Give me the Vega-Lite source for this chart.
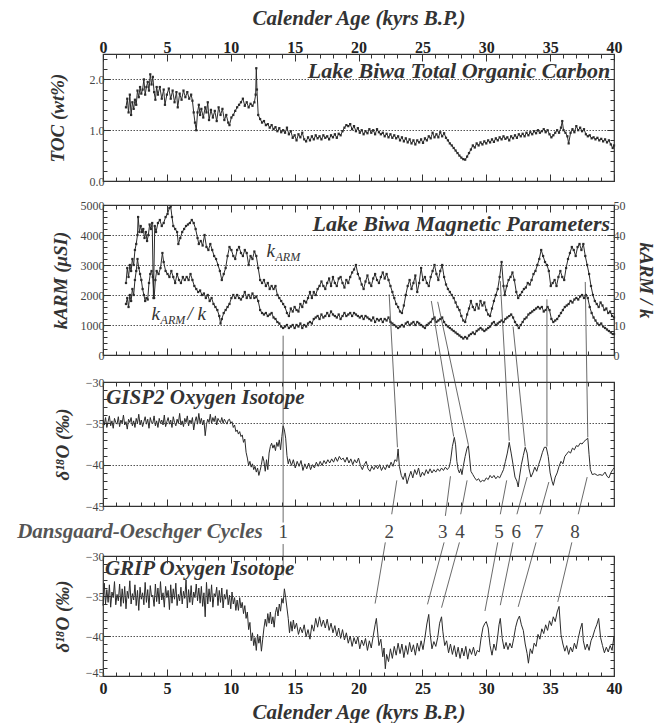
{
"$schema":"https://vega.github.io/schema/vega-lite/v6.json",
"background":"white",
"autosize":{"type":"pad"},
"padding":{"left":16,"top":6,"right":0,"bottom":0},
"config":{"font":"Liberation Serif, DejaVu Serif, serif","view":{"stroke":"#333","strokeWidth":1.2},
"text":{"font":"Liberation Serif, DejaVu Serif, serif"},
"axis":{"domain":false,"labelFont":"Liberation Serif, DejaVu Serif, serif","titleFont":"Liberation Serif, DejaVu Serif, serif","labelColor":"#444","titleColor":"#333","tickColor":"#333","titleFontStyle":"italic","titleFontWeight":"bold","titleFontSize":19,"labelFontSize":12,"labelOverlap":false,"labelFlush":false,"grid":false}},
"datasets":{
"toc":[{"a":1.8,"v":1.45},{"a":1.9,"v":1.62},{"a":2.0,"v":1.35},{"a":2.1,"v":1.7},{"a":2.2,"v":1.3},{"a":2.3,"v":1.55},{"a":2.4,"v":1.42},{"a":2.5,"v":1.6},{"a":2.6,"v":1.5},{"a":2.7,"v":1.78},{"a":2.8,"v":1.65},{"a":2.9,"v":1.85},{"a":3.0,"v":1.72},{"a":3.1,"v":1.8},{"a":3.2,"v":2.0},{"a":3.3,"v":1.7},{"a":3.4,"v":1.85},{"a":3.5,"v":1.95},{"a":3.6,"v":1.78},{"a":3.7,"v":2.1},{"a":3.8,"v":1.9},{"a":3.9,"v":2.05},{"a":4.0,"v":1.75},{"a":4.1,"v":1.6},{"a":4.2,"v":1.85},{"a":4.3,"v":1.7},{"a":4.45,"v":1.85},{"a":4.6,"v":1.62},{"a":4.75,"v":1.8},{"a":4.85,"v":1.5},{"a":5.0,"v":1.7},{"a":5.15,"v":1.82},{"a":5.3,"v":1.62},{"a":5.45,"v":1.78},{"a":5.6,"v":1.55},{"a":5.75,"v":1.75},{"a":5.85,"v":1.45},{"a":6.0,"v":1.72},{"a":6.15,"v":1.6},{"a":6.3,"v":1.78},{"a":6.45,"v":1.65},{"a":6.6,"v":1.75},{"a":6.75,"v":1.62},{"a":6.9,"v":1.7},{"a":7.0,"v":1.58},{"a":7.1,"v":1.35},{"a":7.2,"v":1.15},{"a":7.3,"v":1.0},{"a":7.4,"v":1.35},{"a":7.5,"v":1.5},{"a":7.6,"v":1.3},{"a":7.7,"v":1.42},{"a":7.85,"v":1.25},{"a":8.0,"v":1.45},{"a":8.1,"v":1.35},{"a":8.2,"v":1.55},{"a":8.3,"v":1.2},{"a":8.45,"v":1.4},{"a":8.6,"v":1.25},{"a":8.75,"v":1.38},{"a":8.9,"v":1.18},{"a":9.05,"v":1.45},{"a":9.2,"v":1.3},{"a":9.35,"v":1.42},{"a":9.5,"v":1.2},{"a":9.65,"v":1.3},{"a":9.8,"v":1.15},{"a":9.9,"v":1.1},{"a":10.05,"v":1.25},{"a":10.2,"v":1.3},{"a":10.35,"v":1.38},{"a":10.5,"v":1.45},{"a":10.65,"v":1.5},{"a":10.8,"v":1.55},{"a":10.95,"v":1.62},{"a":11.1,"v":1.48},{"a":11.25,"v":1.55},{"a":11.4,"v":1.45},{"a":11.55,"v":1.52},{"a":11.7,"v":1.48},{"a":11.85,"v":1.55},{"a":11.95,"v":1.7},{"a":12.0,"v":2.22},{"a":12.05,"v":1.8},{"a":12.15,"v":1.3},{"a":12.3,"v":1.22},{"a":12.45,"v":1.15},{"a":12.6,"v":1.18},{"a":12.75,"v":1.1},{"a":12.9,"v":1.12},{"a":13.05,"v":1.05},{"a":13.2,"v":1.1},{"a":13.35,"v":1.02},{"a":13.5,"v":1.06},{"a":13.65,"v":0.98},{"a":13.8,"v":1.04},{"a":13.95,"v":0.96},{"a":14.1,"v":1.0},{"a":14.25,"v":0.95},{"a":14.4,"v":1.05},{"a":14.55,"v":0.92},{"a":14.7,"v":0.98},{"a":14.85,"v":0.85},{"a":15.0,"v":0.9},{"a":15.15,"v":0.8},{"a":15.3,"v":0.92},{"a":15.45,"v":0.86},{"a":15.6,"v":0.95},{"a":15.75,"v":0.82},{"a":15.9,"v":0.78},{"a":16.05,"v":0.86},{"a":16.2,"v":0.8},{"a":16.35,"v":0.88},{"a":16.5,"v":0.82},{"a":16.65,"v":0.9},{"a":16.8,"v":0.84},{"a":16.95,"v":0.88},{"a":17.1,"v":0.82},{"a":17.25,"v":0.9},{"a":17.4,"v":0.85},{"a":17.55,"v":0.88},{"a":17.7,"v":0.82},{"a":17.85,"v":0.9},{"a":18.0,"v":0.86},{"a":18.15,"v":0.92},{"a":18.3,"v":0.85},{"a":18.45,"v":0.93},{"a":18.6,"v":0.9},{"a":18.75,"v":0.98},{"a":18.9,"v":1.05},{"a":19.05,"v":1.1},{"a":19.2,"v":1.08},{"a":19.35,"v":1.12},{"a":19.5,"v":1.02},{"a":19.65,"v":1.08},{"a":19.8,"v":0.98},{"a":19.95,"v":1.04},{"a":20.1,"v":0.95},{"a":20.25,"v":1.0},{"a":20.4,"v":0.92},{"a":20.55,"v":0.98},{"a":20.7,"v":0.94},{"a":20.85,"v":1.02},{"a":21.0,"v":0.95},{"a":21.15,"v":1.0},{"a":21.3,"v":0.92},{"a":21.45,"v":1.02},{"a":21.6,"v":0.96},{"a":21.75,"v":0.92},{"a":21.9,"v":0.95},{"a":22.05,"v":0.88},{"a":22.2,"v":0.93},{"a":22.35,"v":0.86},{"a":22.5,"v":0.92},{"a":22.65,"v":0.85},{"a":22.8,"v":0.9},{"a":22.95,"v":0.84},{"a":23.1,"v":0.88},{"a":23.25,"v":0.8},{"a":23.4,"v":0.86},{"a":23.55,"v":0.78},{"a":23.7,"v":0.84},{"a":23.85,"v":0.76},{"a":24.0,"v":0.82},{"a":24.15,"v":0.74},{"a":24.3,"v":0.8},{"a":24.45,"v":0.72},{"a":24.6,"v":0.8},{"a":24.75,"v":0.76},{"a":24.9,"v":0.82},{"a":25.05,"v":0.75},{"a":25.2,"v":0.84},{"a":25.35,"v":0.8},{"a":25.5,"v":0.88},{"a":25.65,"v":0.84},{"a":25.8,"v":0.95},{"a":25.95,"v":0.86},{"a":26.1,"v":0.92},{"a":26.25,"v":0.86},{"a":26.4,"v":0.96},{"a":26.55,"v":0.88},{"a":26.7,"v":0.94},{"a":26.85,"v":0.85},{"a":27.0,"v":0.8},{"a":27.15,"v":0.74},{"a":27.3,"v":0.7},{"a":27.45,"v":0.65},{"a":27.6,"v":0.6},{"a":27.75,"v":0.55},{"a":27.9,"v":0.5},{"a":28.05,"v":0.46},{"a":28.2,"v":0.43},{"a":28.35,"v":0.42},{"a":28.5,"v":0.48},{"a":28.65,"v":0.55},{"a":28.8,"v":0.62},{"a":28.95,"v":0.7},{"a":29.1,"v":0.66},{"a":29.25,"v":0.74},{"a":29.4,"v":0.7},{"a":29.55,"v":0.76},{"a":29.7,"v":0.72},{"a":29.85,"v":0.78},{"a":30.0,"v":0.74},{"a":30.15,"v":0.8},{"a":30.3,"v":0.76},{"a":30.45,"v":0.82},{"a":30.6,"v":0.77},{"a":30.75,"v":0.84},{"a":30.9,"v":0.8},{"a":31.05,"v":0.86},{"a":31.2,"v":0.82},{"a":31.35,"v":0.88},{"a":31.5,"v":0.83},{"a":31.65,"v":0.86},{"a":31.8,"v":0.8},{"a":31.95,"v":0.88},{"a":32.1,"v":0.84},{"a":32.25,"v":0.9},{"a":32.4,"v":0.85},{"a":32.55,"v":0.92},{"a":32.7,"v":0.88},{"a":32.85,"v":0.93},{"a":33.0,"v":0.88},{"a":33.15,"v":0.95},{"a":33.3,"v":0.9},{"a":33.45,"v":0.96},{"a":33.6,"v":0.92},{"a":33.75,"v":0.98},{"a":33.9,"v":0.94},{"a":34.05,"v":1.0},{"a":34.2,"v":0.95},{"a":34.35,"v":0.98},{"a":34.5,"v":1.02},{"a":34.65,"v":0.96},{"a":34.8,"v":1.0},{"a":34.95,"v":0.92},{"a":35.1,"v":0.86},{"a":35.25,"v":0.9},{"a":35.4,"v":0.95},{"a":35.55,"v":1.0},{"a":35.7,"v":0.95},{"a":35.85,"v":1.05},{"a":35.95,"v":1.18},{"a":36.05,"v":1.0},{"a":36.2,"v":0.95},{"a":36.35,"v":0.88},{"a":36.45,"v":0.74},{"a":36.6,"v":0.95},{"a":36.75,"v":1.02},{"a":36.9,"v":0.96},{"a":37.05,"v":1.08},{"a":37.2,"v":1.0},{"a":37.35,"v":1.05},{"a":37.5,"v":0.98},{"a":37.65,"v":1.02},{"a":37.8,"v":0.92},{"a":37.95,"v":0.88},{"a":38.1,"v":0.9},{"a":38.25,"v":0.84},{"a":38.4,"v":0.86},{"a":38.55,"v":0.82},{"a":38.7,"v":0.85},{"a":38.85,"v":0.8},{"a":39.0,"v":0.83},{"a":39.15,"v":0.78},{"a":39.3,"v":0.82},{"a":39.45,"v":0.76},{"a":39.6,"v":0.8},{"a":39.75,"v":0.72},{"a":39.9,"v":0.65},{"a":40.0,"v":0.7}],
"karm":[{"a":1.8,"v":2400},{"a":1.9,"v":2900},{"a":2.0,"v":2600},{"a":2.1,"v":3000},{"a":2.2,"v":2800},{"a":2.3,"v":3200},{"a":2.4,"v":3000},{"a":2.5,"v":3500},{"a":2.6,"v":3700},{"a":2.7,"v":4000},{"a":2.75,"v":4600},{"a":2.85,"v":4100},{"a":2.95,"v":4300},{"a":3.05,"v":4100},{"a":3.15,"v":4200},{"a":3.25,"v":3900},{"a":3.35,"v":4100},{"a":3.45,"v":3800},{"a":3.55,"v":4000},{"a":3.65,"v":4350},{"a":3.75,"v":4200},{"a":3.85,"v":4400},{"a":3.95,"v":1900},{"a":4.05,"v":4300},{"a":4.15,"v":4100},{"a":4.3,"v":4400},{"a":4.45,"v":4500},{"a":4.6,"v":4300},{"a":4.75,"v":4400},{"a":4.9,"v":4600},{"a":5.05,"v":4700},{"a":5.2,"v":4900},{"a":5.3,"v":4950},{"a":5.4,"v":4600},{"a":5.5,"v":4300},{"a":5.65,"v":4200},{"a":5.8,"v":4100},{"a":5.9,"v":3700},{"a":6.05,"v":3900},{"a":6.2,"v":4100},{"a":6.35,"v":4200},{"a":6.5,"v":4300},{"a":6.65,"v":4350},{"a":6.8,"v":4400},{"a":6.95,"v":4500},{"a":7.1,"v":4400},{"a":7.25,"v":4200},{"a":7.4,"v":3900},{"a":7.5,"v":3700},{"a":7.65,"v":3800},{"a":7.8,"v":3650},{"a":7.95,"v":4000},{"a":8.1,"v":3600},{"a":8.25,"v":3500},{"a":8.4,"v":3700},{"a":8.55,"v":3500},{"a":8.7,"v":3300},{"a":8.85,"v":3200},{"a":9.0,"v":3000},{"a":9.15,"v":2800},{"a":9.3,"v":2500},{"a":9.45,"v":2700},{"a":9.6,"v":2900},{"a":9.75,"v":3300},{"a":9.9,"v":3600},{"a":10.05,"v":3500},{"a":10.2,"v":3300},{"a":10.35,"v":3200},{"a":10.5,"v":3500},{"a":10.65,"v":3600},{"a":10.8,"v":3400},{"a":10.95,"v":3300},{"a":11.1,"v":3500},{"a":11.25,"v":3400},{"a":11.4,"v":3000},{"a":11.55,"v":3300},{"a":11.7,"v":3200},{"a":11.85,"v":3450},{"a":12.0,"v":3300},{"a":12.15,"v":2900},{"a":12.3,"v":2500},{"a":12.45,"v":2400},{"a":12.6,"v":2500},{"a":12.75,"v":2300},{"a":12.9,"v":2400},{"a":13.05,"v":2200},{"a":13.2,"v":2300},{"a":13.35,"v":2200},{"a":13.5,"v":2300},{"a":13.65,"v":2000},{"a":13.8,"v":1900},{"a":13.95,"v":1800},{"a":14.1,"v":1700},{"a":14.25,"v":1600},{"a":14.4,"v":1400},{"a":14.55,"v":1300},{"a":14.7,"v":1550},{"a":14.85,"v":1450},{"a":15.0,"v":1600},{"a":15.15,"v":1500},{"a":15.3,"v":1450},{"a":15.45,"v":1700},{"a":15.6,"v":1600},{"a":15.75,"v":1800},{"a":15.9,"v":1750},{"a":16.05,"v":1900},{"a":16.2,"v":2100},{"a":16.35,"v":1900},{"a":16.5,"v":2100},{"a":16.65,"v":2000},{"a":16.8,"v":2200},{"a":16.95,"v":2300},{"a":17.1,"v":2450},{"a":17.25,"v":2300},{"a":17.4,"v":2200},{"a":17.55,"v":2400},{"a":17.7,"v":2550},{"a":17.85,"v":2300},{"a":18.0,"v":2600},{"a":18.15,"v":2400},{"a":18.3,"v":2300},{"a":18.45,"v":2550},{"a":18.6,"v":2600},{"a":18.75,"v":2400},{"a":18.9,"v":2250},{"a":19.05,"v":2500},{"a":19.2,"v":2400},{"a":19.35,"v":2600},{"a":19.5,"v":2750},{"a":19.65,"v":2850},{"a":19.8,"v":3000},{"a":19.95,"v":2700},{"a":20.1,"v":2550},{"a":20.25,"v":2350},{"a":20.4,"v":2200},{"a":20.55,"v":2450},{"a":20.7,"v":2650},{"a":20.85,"v":2400},{"a":21.0,"v":2300},{"a":21.15,"v":2550},{"a":21.3,"v":2700},{"a":21.45,"v":2500},{"a":21.6,"v":2400},{"a":21.75,"v":2600},{"a":21.9,"v":2750},{"a":22.05,"v":2550},{"a":22.2,"v":2700},{"a":22.35,"v":2500},{"a":22.5,"v":2300},{"a":22.65,"v":2100},{"a":22.8,"v":1900},{"a":22.95,"v":1700},{"a":23.1,"v":1600},{"a":23.25,"v":1450},{"a":23.4,"v":1400},{"a":23.55,"v":1650},{"a":23.7,"v":2000},{"a":23.85,"v":2300},{"a":24.0,"v":2500},{"a":24.15,"v":2200},{"a":24.3,"v":2400},{"a":24.45,"v":2650},{"a":24.6,"v":2100},{"a":24.75,"v":2400},{"a":24.9,"v":2900},{"a":25.05,"v":2500},{"a":25.2,"v":2600},{"a":25.35,"v":2400},{"a":25.5,"v":2300},{"a":25.65,"v":2600},{"a":25.8,"v":2800},{"a":25.95,"v":3000},{"a":26.1,"v":2700},{"a":26.25,"v":2500},{"a":26.4,"v":2800},{"a":26.55,"v":3000},{"a":26.7,"v":2600},{"a":26.85,"v":2350},{"a":27.0,"v":2200},{"a":27.15,"v":2100},{"a":27.3,"v":2000},{"a":27.45,"v":1900},{"a":27.6,"v":1750},{"a":27.75,"v":1600},{"a":27.9,"v":1500},{"a":28.05,"v":1300},{"a":28.2,"v":1150},{"a":28.35,"v":1100},{"a":28.5,"v":1350},{"a":28.65,"v":1550},{"a":28.8,"v":1800},{"a":28.95,"v":1600},{"a":29.1,"v":1500},{"a":29.25,"v":1700},{"a":29.4,"v":1550},{"a":29.55,"v":1800},{"a":29.7,"v":1650},{"a":29.85,"v":1750},{"a":30.0,"v":1500},{"a":30.15,"v":1350},{"a":30.3,"v":1300},{"a":30.45,"v":1550},{"a":30.6,"v":1800},{"a":30.75,"v":2000},{"a":30.9,"v":2200},{"a":31.05,"v":2600},{"a":31.2,"v":3100},{"a":31.35,"v":2300},{"a":31.45,"v":2000},{"a":31.6,"v":2300},{"a":31.75,"v":2500},{"a":31.9,"v":2600},{"a":32.05,"v":2750},{"a":32.2,"v":2500},{"a":32.35,"v":2100},{"a":32.5,"v":1900},{"a":32.65,"v":2000},{"a":32.8,"v":2100},{"a":32.95,"v":2200},{"a":33.1,"v":2250},{"a":33.25,"v":2400},{"a":33.4,"v":2350},{"a":33.55,"v":2500},{"a":33.7,"v":2700},{"a":33.85,"v":2800},{"a":34.0,"v":3000},{"a":34.15,"v":3200},{"a":34.3,"v":3500},{"a":34.45,"v":3300},{"a":34.6,"v":3100},{"a":34.75,"v":3000},{"a":34.9,"v":2800},{"a":35.05,"v":2300},{"a":35.2,"v":2400},{"a":35.35,"v":2500},{"a":35.5,"v":2300},{"a":35.65,"v":2600},{"a":35.8,"v":2800},{"a":35.95,"v":2600},{"a":36.1,"v":2500},{"a":36.25,"v":2900},{"a":36.4,"v":3200},{"a":36.55,"v":3400},{"a":36.7,"v":3600},{"a":36.85,"v":3500},{"a":37.0,"v":3300},{"a":37.15,"v":3600},{"a":37.3,"v":3700},{"a":37.45,"v":3500},{"a":37.6,"v":3700},{"a":37.75,"v":3300},{"a":37.9,"v":3000},{"a":38.05,"v":2700},{"a":38.2,"v":2300},{"a":38.35,"v":2000},{"a":38.5,"v":1800},{"a":38.65,"v":1700},{"a":38.8,"v":1600},{"a":38.95,"v":1750},{"a":39.1,"v":1650},{"a":39.25,"v":1500},{"a":39.4,"v":1550},{"a":39.55,"v":1400},{"a":39.7,"v":1450},{"a":39.85,"v":1300},{"a":40.0,"v":1250}],
"ratio":[{"a":1.8,"v":17},{"a":1.9,"v":19},{"a":2.0,"v":16},{"a":2.1,"v":20},{"a":2.2,"v":18},{"a":2.3,"v":22},{"a":2.4,"v":20},{"a":2.5,"v":25},{"a":2.6,"v":28},{"a":2.7,"v":32},{"a":2.8,"v":29},{"a":2.9,"v":27},{"a":3.0,"v":25},{"a":3.1,"v":22},{"a":3.2,"v":20},{"a":3.3,"v":18},{"a":3.4,"v":19},{"a":3.5,"v":18.5},{"a":3.6,"v":24},{"a":3.7,"v":27},{"a":3.8,"v":28},{"a":3.9,"v":26},{"a":4.0,"v":19},{"a":4.1,"v":25},{"a":4.2,"v":28},{"a":4.35,"v":27},{"a":4.5,"v":29},{"a":4.65,"v":34},{"a":4.75,"v":31},{"a":4.9,"v":28},{"a":5.05,"v":27},{"a":5.2,"v":26},{"a":5.35,"v":28},{"a":5.5,"v":26},{"a":5.65,"v":24},{"a":5.8,"v":27},{"a":5.95,"v":25},{"a":6.1,"v":24},{"a":6.25,"v":26},{"a":6.4,"v":25},{"a":6.55,"v":26},{"a":6.7,"v":25},{"a":6.85,"v":27},{"a":7.0,"v":25},{"a":7.15,"v":23},{"a":7.3,"v":22},{"a":7.45,"v":21},{"a":7.6,"v":21.5},{"a":7.75,"v":20},{"a":7.9,"v":20.5},{"a":8.05,"v":19},{"a":8.2,"v":20},{"a":8.35,"v":18},{"a":8.5,"v":19},{"a":8.65,"v":17},{"a":8.8,"v":16},{"a":8.95,"v":15},{"a":9.1,"v":13},{"a":9.2,"v":10.5},{"a":9.3,"v":12},{"a":9.45,"v":14},{"a":9.6,"v":15},{"a":9.75,"v":16},{"a":9.9,"v":17},{"a":10.05,"v":19},{"a":10.2,"v":20},{"a":10.35,"v":19},{"a":10.5,"v":20},{"a":10.65,"v":19},{"a":10.8,"v":18.5},{"a":10.95,"v":19.5},{"a":11.1,"v":21},{"a":11.25,"v":19},{"a":11.4,"v":20},{"a":11.55,"v":19},{"a":11.7,"v":20.5},{"a":11.85,"v":19},{"a":12.0,"v":19.5},{"a":12.15,"v":18},{"a":12.3,"v":15},{"a":12.45,"v":14},{"a":12.6,"v":13.5},{"a":12.75,"v":14},{"a":12.9,"v":13},{"a":13.05,"v":13.5},{"a":13.2,"v":14},{"a":13.35,"v":12.5},{"a":13.5,"v":12},{"a":13.65,"v":11},{"a":13.8,"v":10.5},{"a":13.95,"v":9.5},{"a":14.1,"v":9},{"a":14.25,"v":9.5},{"a":14.4,"v":10},{"a":14.55,"v":9},{"a":14.7,"v":9.5},{"a":14.85,"v":10},{"a":15.0,"v":9},{"a":15.15,"v":10},{"a":15.3,"v":9.5},{"a":15.45,"v":10.5},{"a":15.6,"v":9},{"a":15.75,"v":10},{"a":15.9,"v":9.5},{"a":16.05,"v":10.5},{"a":16.2,"v":11},{"a":16.35,"v":10.5},{"a":16.5,"v":12},{"a":16.65,"v":12.5},{"a":16.8,"v":13},{"a":16.95,"v":12},{"a":17.1,"v":13.5},{"a":17.25,"v":12.5},{"a":17.4,"v":13},{"a":17.55,"v":14},{"a":17.7,"v":13},{"a":17.85,"v":14.5},{"a":18.0,"v":13.5},{"a":18.15,"v":13},{"a":18.3,"v":12.5},{"a":18.45,"v":13.5},{"a":18.6,"v":12},{"a":18.75,"v":13},{"a":18.9,"v":14},{"a":19.05,"v":13},{"a":19.2,"v":13.5},{"a":19.35,"v":14},{"a":19.5,"v":13},{"a":19.65,"v":14},{"a":19.8,"v":13.5},{"a":19.95,"v":13},{"a":20.1,"v":12.5},{"a":20.25,"v":13},{"a":20.4,"v":12},{"a":20.55,"v":13},{"a":20.7,"v":12.5},{"a":20.85,"v":12},{"a":21.0,"v":11.5},{"a":21.15,"v":12.5},{"a":21.3,"v":11},{"a":21.45,"v":12},{"a":21.6,"v":11.5},{"a":21.75,"v":12},{"a":21.9,"v":11},{"a":22.05,"v":12},{"a":22.2,"v":11.5},{"a":22.35,"v":12.5},{"a":22.5,"v":11},{"a":22.65,"v":10.5},{"a":22.8,"v":10},{"a":22.95,"v":9.5},{"a":23.1,"v":9},{"a":23.25,"v":9.5},{"a":23.4,"v":10},{"a":23.55,"v":9.5},{"a":23.7,"v":10.5},{"a":23.85,"v":11},{"a":24.0,"v":10},{"a":24.15,"v":10.5},{"a":24.3,"v":11},{"a":24.45,"v":10},{"a":24.6,"v":11},{"a":24.75,"v":10.5},{"a":24.9,"v":10},{"a":25.05,"v":9.5},{"a":25.2,"v":9},{"a":25.35,"v":10},{"a":25.5,"v":10.5},{"a":25.65,"v":11},{"a":25.8,"v":12},{"a":25.95,"v":12.5},{"a":26.1,"v":11},{"a":26.25,"v":11.5},{"a":26.4,"v":12},{"a":26.55,"v":12.5},{"a":26.7,"v":11},{"a":26.85,"v":10},{"a":27.0,"v":9.5},{"a":27.15,"v":9},{"a":27.3,"v":8.5},{"a":27.45,"v":8},{"a":27.6,"v":7.5},{"a":27.75,"v":7},{"a":27.9,"v":6.5},{"a":28.05,"v":6},{"a":28.2,"v":5.5},{"a":28.35,"v":6},{"a":28.5,"v":5.5},{"a":28.65,"v":6.5},{"a":28.8,"v":7},{"a":28.95,"v":7.5},{"a":29.1,"v":7},{"a":29.25,"v":8},{"a":29.4,"v":8.5},{"a":29.55,"v":9},{"a":29.7,"v":8.5},{"a":29.85,"v":8},{"a":30.0,"v":8.5},{"a":30.15,"v":9},{"a":30.3,"v":9.5},{"a":30.45,"v":10.5},{"a":30.6,"v":11},{"a":30.75,"v":10},{"a":30.9,"v":10.5},{"a":31.05,"v":11},{"a":31.2,"v":11.5},{"a":31.35,"v":11},{"a":31.5,"v":12},{"a":31.65,"v":12.5},{"a":31.8,"v":13},{"a":31.95,"v":13.5},{"a":32.1,"v":12.5},{"a":32.25,"v":11},{"a":32.4,"v":10},{"a":32.55,"v":9},{"a":32.7,"v":10},{"a":32.85,"v":11},{"a":33.0,"v":12},{"a":33.15,"v":12.5},{"a":33.3,"v":13.5},{"a":33.45,"v":14},{"a":33.6,"v":14.5},{"a":33.75,"v":15},{"a":33.9,"v":15.5},{"a":34.05,"v":16},{"a":34.2,"v":15.5},{"a":34.35,"v":16},{"a":34.5,"v":14.5},{"a":34.65,"v":15},{"a":34.8,"v":16},{"a":34.95,"v":15},{"a":35.1,"v":12},{"a":35.25,"v":11},{"a":35.4,"v":11.5},{"a":35.55,"v":12},{"a":35.7,"v":13},{"a":35.85,"v":14},{"a":36.0,"v":15},{"a":36.15,"v":16},{"a":36.3,"v":16.5},{"a":36.45,"v":17},{"a":36.6,"v":18},{"a":36.75,"v":17.5},{"a":36.9,"v":18.5},{"a":37.05,"v":19},{"a":37.2,"v":18.5},{"a":37.35,"v":19.5},{"a":37.5,"v":20},{"a":37.65,"v":19},{"a":37.8,"v":20},{"a":37.95,"v":19},{"a":38.1,"v":16},{"a":38.25,"v":14},{"a":38.4,"v":12.5},{"a":38.55,"v":11.5},{"a":38.7,"v":10.5},{"a":38.85,"v":10},{"a":39.0,"v":10.5},{"a":39.15,"v":9.5},{"a":39.3,"v":9},{"a":39.45,"v":8.5},{"a":39.6,"v":8},{"a":39.75,"v":7.5},{"a":39.9,"v":7},{"a":40.0,"v":7}],
"gisp":[{"a":0.0,"v":-34.6},{"a":0.1,"v":-35.2},{"a":0.2,"v":-34.3},{"a":0.3,"v":-35.5},{"a":0.4,"v":-34.8},{"a":0.5,"v":-34.1},{"a":0.6,"v":-35.3},{"a":0.7,"v":-34.7},{"a":0.8,"v":-35.6},{"a":0.9,"v":-34.4},{"a":1.0,"v":-34.9},{"a":1.1,"v":-35.1},{"a":1.2,"v":-34.2},{"a":1.3,"v":-35.4},{"a":1.4,"v":-34.6},{"a":1.5,"v":-35.0},{"a":1.6,"v":-34.0},{"a":1.7,"v":-35.2},{"a":1.8,"v":-34.8},{"a":1.9,"v":-35.7},{"a":2.0,"v":-34.5},{"a":2.1,"v":-34.9},{"a":2.2,"v":-34.3},{"a":2.3,"v":-35.3},{"a":2.4,"v":-34.7},{"a":2.5,"v":-35.5},{"a":2.6,"v":-34.4},{"a":2.7,"v":-35.0},{"a":2.8,"v":-33.9},{"a":2.9,"v":-35.2},{"a":3.0,"v":-34.6},{"a":3.1,"v":-35.4},{"a":3.2,"v":-34.8},{"a":3.3,"v":-34.2},{"a":3.4,"v":-35.1},{"a":3.5,"v":-34.5},{"a":3.6,"v":-35.6},{"a":3.7,"v":-34.3},{"a":3.8,"v":-34.9},{"a":3.9,"v":-35.0},{"a":4.0,"v":-34.1},{"a":4.1,"v":-35.3},{"a":4.2,"v":-34.7},{"a":4.3,"v":-35.5},{"a":4.4,"v":-34.4},{"a":4.5,"v":-35.0},{"a":4.6,"v":-34.6},{"a":4.7,"v":-35.2},{"a":4.8,"v":-34.0},{"a":4.9,"v":-35.4},{"a":5.0,"v":-34.8},{"a":5.1,"v":-34.3},{"a":5.2,"v":-35.1},{"a":5.3,"v":-34.6},{"a":5.4,"v":-35.5},{"a":5.5,"v":-34.2},{"a":5.6,"v":-34.9},{"a":5.7,"v":-35.3},{"a":5.8,"v":-34.5},{"a":5.9,"v":-35.0},{"a":6.0,"v":-33.8},{"a":6.1,"v":-35.2},{"a":6.2,"v":-34.7},{"a":6.3,"v":-35.4},{"a":6.4,"v":-34.4},{"a":6.5,"v":-34.9},{"a":6.6,"v":-34.1},{"a":6.7,"v":-35.3},{"a":6.8,"v":-34.6},{"a":6.9,"v":-35.0},{"a":7.0,"v":-34.3},{"a":7.1,"v":-35.8},{"a":7.2,"v":-34.8},{"a":7.3,"v":-34.2},{"a":7.4,"v":-35.1},{"a":7.5,"v":-33.8},{"a":7.6,"v":-35.0},{"a":7.7,"v":-34.4},{"a":7.8,"v":-35.2},{"a":7.9,"v":-34.6},{"a":8.0,"v":-36.5},{"a":8.1,"v":-35.1},{"a":8.2,"v":-34.5},{"a":8.3,"v":-34.9},{"a":8.4,"v":-33.9},{"a":8.5,"v":-35.0},{"a":8.6,"v":-34.3},{"a":8.7,"v":-34.8},{"a":8.8,"v":-34.1},{"a":8.9,"v":-35.2},{"a":9.0,"v":-34.4},{"a":9.1,"v":-34.7},{"a":9.2,"v":-34.9},{"a":9.3,"v":-34.3},{"a":9.4,"v":-35.0},{"a":9.5,"v":-34.5},{"a":9.6,"v":-34.8},{"a":9.7,"v":-35.1},{"a":9.8,"v":-34.6},{"a":9.9,"v":-34.5},{"a":10.0,"v":-35.0},{"a":10.1,"v":-34.8},{"a":10.2,"v":-35.5},{"a":10.3,"v":-35.2},{"a":10.4,"v":-36.0},{"a":10.5,"v":-35.8},{"a":10.6,"v":-36.3},{"a":10.7,"v":-36.0},{"a":10.8,"v":-36.6},{"a":10.9,"v":-36.4},{"a":11.0,"v":-37.3},{"a":11.1,"v":-36.9},{"a":11.2,"v":-38.5},{"a":11.3,"v":-39.2},{"a":11.4,"v":-40.1},{"a":11.5,"v":-39.6},{"a":11.6,"v":-40.3},{"a":11.7,"v":-39.9},{"a":11.8,"v":-40.6},{"a":11.9,"v":-40.2},{"a":12.0,"v":-40.9},{"a":12.1,"v":-40.4},{"a":12.2,"v":-41.3},{"a":12.3,"v":-40.7},{"a":12.4,"v":-40.0},{"a":12.5,"v":-39.0},{"a":12.6,"v":-39.6},{"a":12.7,"v":-40.8},{"a":12.8,"v":-39.4},{"a":12.9,"v":-40.6},{"a":13.0,"v":-38.6},{"a":13.1,"v":-37.8},{"a":13.2,"v":-37.4},{"a":13.3,"v":-38.0},{"a":13.4,"v":-37.6},{"a":13.5,"v":-38.3},{"a":13.6,"v":-37.3},{"a":13.7,"v":-37.8},{"a":13.8,"v":-37.0},{"a":13.9,"v":-38.2},{"a":14.0,"v":-36.6},{"a":14.1,"v":-35.3},{"a":14.2,"v":-35.8},{"a":14.3,"v":-36.8},{"a":14.4,"v":-38.9},{"a":14.5,"v":-39.9},{"a":14.6,"v":-39.3},{"a":14.75,"v":-40.1},{"a":14.9,"v":-39.4},{"a":15.05,"v":-40.4},{"a":15.2,"v":-39.6},{"a":15.35,"v":-40.2},{"a":15.5,"v":-39.5},{"a":15.65,"v":-40.7},{"a":15.8,"v":-39.9},{"a":15.95,"v":-40.5},{"a":16.1,"v":-39.8},{"a":16.25,"v":-40.6},{"a":16.4,"v":-40.0},{"a":16.55,"v":-40.4},{"a":16.7,"v":-39.7},{"a":16.85,"v":-40.2},{"a":17.0,"v":-39.6},{"a":17.15,"v":-40.1},{"a":17.3,"v":-39.5},{"a":17.45,"v":-39.9},{"a":17.6,"v":-39.4},{"a":17.75,"v":-39.8},{"a":17.9,"v":-39.3},{"a":18.05,"v":-39.7},{"a":18.2,"v":-39.1},{"a":18.35,"v":-39.6},{"a":18.5,"v":-39.0},{"a":18.65,"v":-39.4},{"a":18.8,"v":-39.2},{"a":18.95,"v":-39.7},{"a":19.1,"v":-39.1},{"a":19.25,"v":-39.8},{"a":19.4,"v":-39.3},{"a":19.55,"v":-40.0},{"a":19.7,"v":-39.4},{"a":19.85,"v":-39.8},{"a":20.0,"v":-39.2},{"a":20.15,"v":-40.1},{"a":20.3,"v":-40.6},{"a":20.45,"v":-40.0},{"a":20.6,"v":-39.6},{"a":20.75,"v":-40.5},{"a":20.9,"v":-40.8},{"a":21.05,"v":-40.2},{"a":21.2,"v":-40.6},{"a":21.35,"v":-40.1},{"a":21.5,"v":-40.5},{"a":21.65,"v":-40.0},{"a":21.8,"v":-40.7},{"a":21.95,"v":-40.2},{"a":22.1,"v":-40.6},{"a":22.25,"v":-40.0},{"a":22.4,"v":-40.4},{"a":22.55,"v":-39.7},{"a":22.7,"v":-40.2},{"a":22.85,"v":-39.4},{"a":23.0,"v":-39.6},{"a":23.1,"v":-38.1},{"a":23.2,"v":-40.2},{"a":23.35,"v":-41.3},{"a":23.5,"v":-41.8},{"a":23.65,"v":-41.0},{"a":23.8,"v":-42.3},{"a":23.95,"v":-41.5},{"a":24.1,"v":-40.8},{"a":24.25,"v":-41.6},{"a":24.4,"v":-40.6},{"a":24.55,"v":-41.2},{"a":24.7,"v":-40.4},{"a":24.85,"v":-41.5},{"a":25.0,"v":-40.9},{"a":25.15,"v":-41.3},{"a":25.3,"v":-40.6},{"a":25.45,"v":-41.1},{"a":25.6,"v":-40.5},{"a":25.75,"v":-41.0},{"a":25.9,"v":-40.6},{"a":26.05,"v":-40.9},{"a":26.2,"v":-40.5},{"a":26.35,"v":-40.8},{"a":26.5,"v":-40.4},{"a":26.65,"v":-40.7},{"a":26.8,"v":-40.3},{"a":26.95,"v":-40.6},{"a":27.1,"v":-40.3},{"a":27.2,"v":-39.6},{"a":27.35,"v":-37.8},{"a":27.5,"v":-36.7},{"a":27.6,"v":-37.6},{"a":27.7,"v":-39.6},{"a":27.8,"v":-40.6},{"a":27.9,"v":-41.0},{"a":28.0,"v":-40.5},{"a":28.1,"v":-41.2},{"a":28.2,"v":-40.2},{"a":28.35,"v":-39.0},{"a":28.5,"v":-38.0},{"a":28.6,"v":-37.7},{"a":28.7,"v":-39.2},{"a":28.8,"v":-40.8},{"a":28.95,"v":-41.2},{"a":29.1,"v":-41.6},{"a":29.25,"v":-41.9},{"a":29.4,"v":-41.7},{"a":29.55,"v":-42.1},{"a":29.7,"v":-41.9},{"a":29.85,"v":-42.0},{"a":30.0,"v":-41.6},{"a":30.15,"v":-41.8},{"a":30.3,"v":-41.3},{"a":30.45,"v":-41.6},{"a":30.6,"v":-41.3},{"a":30.75,"v":-41.7},{"a":30.9,"v":-41.4},{"a":31.05,"v":-41.6},{"a":31.2,"v":-41.1},{"a":31.35,"v":-40.6},{"a":31.5,"v":-39.6},{"a":31.65,"v":-38.6},{"a":31.8,"v":-37.3},{"a":31.95,"v":-38.6},{"a":32.1,"v":-40.0},{"a":32.25,"v":-41.5},{"a":32.4,"v":-42.0},{"a":32.5,"v":-42.7},{"a":32.6,"v":-41.5},{"a":32.75,"v":-40.0},{"a":32.9,"v":-38.9},{"a":33.05,"v":-37.9},{"a":33.2,"v":-38.6},{"a":33.35,"v":-40.5},{"a":33.5,"v":-41.5},{"a":33.65,"v":-41.0},{"a":33.8,"v":-40.3},{"a":33.95,"v":-40.8},{"a":34.1,"v":-40.0},{"a":34.25,"v":-39.3},{"a":34.4,"v":-38.5},{"a":34.55,"v":-37.9},{"a":34.7,"v":-37.9},{"a":34.85,"v":-39.0},{"a":35.0,"v":-41.0},{"a":35.15,"v":-42.0},{"a":35.25,"v":-42.5},{"a":35.4,"v":-41.5},{"a":35.55,"v":-41.0},{"a":35.7,"v":-40.2},{"a":35.85,"v":-39.6},{"a":36.0,"v":-39.9},{"a":36.15,"v":-39.0},{"a":36.3,"v":-38.7},{"a":36.45,"v":-38.4},{"a":36.6,"v":-38.6},{"a":36.75,"v":-38.0},{"a":36.9,"v":-38.2},{"a":37.05,"v":-37.7},{"a":37.2,"v":-37.8},{"a":37.35,"v":-37.4},{"a":37.5,"v":-37.5},{"a":37.65,"v":-37.2},{"a":37.8,"v":-37.0},{"a":37.95,"v":-36.8},{"a":38.05,"v":-38.8},{"a":38.15,"v":-40.6},{"a":38.3,"v":-41.2},{"a":38.5,"v":-41.1},{"a":38.7,"v":-41.3},{"a":38.9,"v":-41.2},{"a":39.1,"v":-41.3},{"a":39.3,"v":-40.9},{"a":39.45,"v":-41.4},{"a":39.6,"v":-41.6},{"a":39.75,"v":-41.0},{"a":39.9,"v":-40.6},{"a":40.0,"v":-40.4}],
"grip":[{"a":0.0,"v":-36.2},{"a":0.1,"v":-33.4},{"a":0.2,"v":-36.0},{"a":0.3,"v":-34.2},{"a":0.4,"v":-35.8},{"a":0.5,"v":-33.6},{"a":0.6,"v":-36.4},{"a":0.7,"v":-34.5},{"a":0.8,"v":-35.2},{"a":0.9,"v":-33.2},{"a":1.0,"v":-36.1},{"a":1.1,"v":-34.8},{"a":1.2,"v":-35.6},{"a":1.3,"v":-33.5},{"a":1.4,"v":-36.3},{"a":1.5,"v":-34.1},{"a":1.6,"v":-35.9},{"a":1.7,"v":-33.8},{"a":1.8,"v":-36.6},{"a":1.9,"v":-34.4},{"a":2.0,"v":-35.3},{"a":2.1,"v":-33.1},{"a":2.2,"v":-36.0},{"a":2.3,"v":-34.7},{"a":2.4,"v":-35.5},{"a":2.5,"v":-33.6},{"a":2.6,"v":-36.2},{"a":2.7,"v":-34.3},{"a":2.8,"v":-36.8},{"a":2.9,"v":-33.9},{"a":3.0,"v":-35.4},{"a":3.1,"v":-34.6},{"a":3.2,"v":-36.1},{"a":3.3,"v":-33.3},{"a":3.4,"v":-35.8},{"a":3.5,"v":-34.2},{"a":3.6,"v":-36.5},{"a":3.7,"v":-33.7},{"a":3.8,"v":-35.1},{"a":3.9,"v":-34.9},{"a":4.0,"v":-36.3},{"a":4.1,"v":-33.5},{"a":4.2,"v":-35.7},{"a":4.3,"v":-34.0},{"a":4.4,"v":-36.0},{"a":4.5,"v":-33.2},{"a":4.6,"v":-35.5},{"a":4.7,"v":-34.6},{"a":4.8,"v":-36.4},{"a":4.9,"v":-33.8},{"a":5.0,"v":-35.2},{"a":5.1,"v":-34.3},{"a":5.2,"v":-36.7},{"a":5.3,"v":-33.6},{"a":5.4,"v":-35.9},{"a":5.5,"v":-34.1},{"a":5.6,"v":-35.4},{"a":5.7,"v":-33.4},{"a":5.8,"v":-36.2},{"a":5.9,"v":-34.8},{"a":6.0,"v":-35.6},{"a":6.1,"v":-33.9},{"a":6.2,"v":-36.0},{"a":6.3,"v":-34.4},{"a":6.4,"v":-35.3},{"a":6.5,"v":-33.0},{"a":6.6,"v":-36.5},{"a":6.7,"v":-34.2},{"a":6.8,"v":-35.8},{"a":6.9,"v":-33.7},{"a":7.0,"v":-36.1},{"a":7.1,"v":-34.5},{"a":7.2,"v":-35.2},{"a":7.3,"v":-33.5},{"a":7.4,"v":-35.6},{"a":7.5,"v":-34.0},{"a":7.6,"v":-35.9},{"a":7.7,"v":-33.8},{"a":7.8,"v":-36.3},{"a":7.9,"v":-34.6},{"a":8.0,"v":-37.6},{"a":8.1,"v":-33.3},{"a":8.2,"v":-36.0},{"a":8.3,"v":-34.1},{"a":8.4,"v":-35.7},{"a":8.5,"v":-33.6},{"a":8.6,"v":-36.4},{"a":8.7,"v":-34.7},{"a":8.8,"v":-35.1},{"a":8.9,"v":-33.9},{"a":9.0,"v":-36.2},{"a":9.1,"v":-34.3},{"a":9.2,"v":-35.8},{"a":9.3,"v":-34.0},{"a":9.4,"v":-36.5},{"a":9.5,"v":-34.8},{"a":9.6,"v":-35.4},{"a":9.7,"v":-34.2},{"a":9.8,"v":-36.1},{"a":9.9,"v":-34.9},{"a":10.0,"v":-36.6},{"a":10.1,"v":-34.5},{"a":10.2,"v":-36.0},{"a":10.3,"v":-35.2},{"a":10.4,"v":-36.8},{"a":10.5,"v":-35.5},{"a":10.6,"v":-36.8},{"a":10.7,"v":-35.2},{"a":10.8,"v":-36.5},{"a":10.9,"v":-35.8},{"a":11.0,"v":-37.2},{"a":11.1,"v":-36.2},{"a":11.2,"v":-37.8},{"a":11.3,"v":-37.0},{"a":11.4,"v":-39.2},{"a":11.5,"v":-38.3},{"a":11.6,"v":-40.6},{"a":11.7,"v":-39.6},{"a":11.8,"v":-41.2},{"a":11.9,"v":-40.2},{"a":12.0,"v":-41.8},{"a":12.1,"v":-39.8},{"a":12.2,"v":-40.9},{"a":12.3,"v":-40.0},{"a":12.4,"v":-41.9},{"a":12.5,"v":-40.4},{"a":12.6,"v":-39.0},{"a":12.7,"v":-37.9},{"a":12.8,"v":-38.8},{"a":12.9,"v":-37.2},{"a":13.0,"v":-38.4},{"a":13.1,"v":-37.0},{"a":13.2,"v":-38.5},{"a":13.3,"v":-37.6},{"a":13.4,"v":-38.9},{"a":13.5,"v":-37.1},{"a":13.6,"v":-36.4},{"a":13.7,"v":-37.5},{"a":13.8,"v":-36.0},{"a":13.9,"v":-36.9},{"a":14.0,"v":-35.3},{"a":14.1,"v":-35.9},{"a":14.2,"v":-34.1},{"a":14.3,"v":-35.2},{"a":14.4,"v":-36.5},{"a":14.5,"v":-37.8},{"a":14.6,"v":-39.6},{"a":14.7,"v":-38.2},{"a":14.8,"v":-39.4},{"a":14.9,"v":-38.0},{"a":15.0,"v":-39.1},{"a":15.15,"v":-38.4},{"a":15.3,"v":-39.8},{"a":15.45,"v":-38.9},{"a":15.6,"v":-39.6},{"a":15.75,"v":-38.6},{"a":15.9,"v":-40.1},{"a":16.05,"v":-39.2},{"a":16.2,"v":-40.4},{"a":16.35,"v":-38.6},{"a":16.5,"v":-39.4},{"a":16.65,"v":-37.8},{"a":16.8,"v":-38.9},{"a":16.95,"v":-37.6},{"a":17.1,"v":-38.8},{"a":17.25,"v":-38.0},{"a":17.4,"v":-39.0},{"a":17.55,"v":-37.9},{"a":17.7,"v":-39.3},{"a":17.85,"v":-38.4},{"a":18.0,"v":-39.6},{"a":18.15,"v":-38.7},{"a":18.3,"v":-40.0},{"a":18.45,"v":-39.0},{"a":18.6,"v":-40.3},{"a":18.75,"v":-39.2},{"a":18.9,"v":-40.5},{"a":19.05,"v":-39.6},{"a":19.2,"v":-40.9},{"a":19.35,"v":-40.0},{"a":19.5,"v":-41.3},{"a":19.65,"v":-40.2},{"a":19.8,"v":-41.0},{"a":19.95,"v":-40.1},{"a":20.1,"v":-41.6},{"a":20.25,"v":-40.5},{"a":20.4,"v":-41.2},{"a":20.55,"v":-40.3},{"a":20.7,"v":-41.8},{"a":20.85,"v":-40.6},{"a":21.0,"v":-41.5},{"a":21.15,"v":-40.0},{"a":21.3,"v":-38.6},{"a":21.4,"v":-37.8},{"a":21.5,"v":-39.5},{"a":21.6,"v":-41.2},{"a":21.75,"v":-40.4},{"a":21.9,"v":-42.6},{"a":22.0,"v":-41.5},{"a":22.1,"v":-44.1},{"a":22.2,"v":-42.3},{"a":22.35,"v":-43.2},{"a":22.5,"v":-41.6},{"a":22.65,"v":-42.8},{"a":22.8,"v":-41.3},{"a":22.95,"v":-42.4},{"a":23.1,"v":-40.9},{"a":23.25,"v":-42.2},{"a":23.4,"v":-41.0},{"a":23.55,"v":-42.7},{"a":23.7,"v":-41.2},{"a":23.85,"v":-42.3},{"a":24.0,"v":-40.8},{"a":24.15,"v":-42.0},{"a":24.3,"v":-41.1},{"a":24.45,"v":-42.4},{"a":24.6,"v":-40.9},{"a":24.75,"v":-41.9},{"a":24.9,"v":-40.6},{"a":25.05,"v":-41.7},{"a":25.2,"v":-40.2},{"a":25.35,"v":-38.5},{"a":25.5,"v":-37.3},{"a":25.6,"v":-39.6},{"a":25.75,"v":-41.6},{"a":25.9,"v":-40.7},{"a":26.05,"v":-41.3},{"a":26.2,"v":-40.2},{"a":26.35,"v":-38.4},{"a":26.5,"v":-37.6},{"a":26.6,"v":-39.4},{"a":26.75,"v":-41.2},{"a":26.9,"v":-40.6},{"a":27.05,"v":-42.1},{"a":27.2,"v":-41.0},{"a":27.35,"v":-42.3},{"a":27.5,"v":-41.2},{"a":27.65,"v":-42.6},{"a":27.8,"v":-41.4},{"a":27.95,"v":-42.8},{"a":28.1,"v":-41.5},{"a":28.25,"v":-42.5},{"a":28.4,"v":-41.3},{"a":28.55,"v":-42.9},{"a":28.7,"v":-41.6},{"a":28.85,"v":-42.3},{"a":29.0,"v":-41.4},{"a":29.15,"v":-42.5},{"a":29.3,"v":-41.8},{"a":29.45,"v":-42.0},{"a":29.6,"v":-40.2},{"a":29.75,"v":-38.9},{"a":29.9,"v":-38.4},{"a":30.0,"v":-38.2},{"a":30.15,"v":-39.0},{"a":30.3,"v":-41.2},{"a":30.45,"v":-42.4},{"a":30.6,"v":-41.0},{"a":30.75,"v":-41.8},{"a":30.9,"v":-40.0},{"a":31.0,"v":-38.6},{"a":31.1,"v":-37.8},{"a":31.25,"v":-40.3},{"a":31.4,"v":-41.6},{"a":31.55,"v":-40.8},{"a":31.7,"v":-41.7},{"a":31.85,"v":-40.9},{"a":32.0,"v":-41.5},{"a":32.15,"v":-40.3},{"a":32.3,"v":-38.9},{"a":32.45,"v":-38.0},{"a":32.6,"v":-37.5},{"a":32.75,"v":-38.6},{"a":32.9,"v":-39.3},{"a":33.05,"v":-41.0},{"a":33.2,"v":-42.2},{"a":33.3,"v":-43.4},{"a":33.45,"v":-41.6},{"a":33.6,"v":-42.2},{"a":33.75,"v":-40.9},{"a":33.9,"v":-41.3},{"a":34.05,"v":-39.8},{"a":34.2,"v":-40.4},{"a":34.35,"v":-39.1},{"a":34.5,"v":-39.7},{"a":34.65,"v":-38.6},{"a":34.8,"v":-39.3},{"a":34.95,"v":-38.1},{"a":35.1,"v":-38.7},{"a":35.25,"v":-37.6},{"a":35.4,"v":-38.2},{"a":35.55,"v":-37.0},{"a":35.7,"v":-36.3},{"a":35.85,"v":-39.8},{"a":36.0,"v":-41.0},{"a":36.15,"v":-41.9},{"a":36.3,"v":-41.2},{"a":36.45,"v":-42.3},{"a":36.6,"v":-41.4},{"a":36.75,"v":-42.0},{"a":36.9,"v":-40.9},{"a":37.05,"v":-41.6},{"a":37.2,"v":-40.3},{"a":37.35,"v":-39.2},{"a":37.5,"v":-38.4},{"a":37.6,"v":-40.6},{"a":37.75,"v":-41.7},{"a":37.9,"v":-41.0},{"a":38.05,"v":-41.8},{"a":38.2,"v":-40.6},{"a":38.35,"v":-40.0},{"a":38.5,"v":-39.2},{"a":38.65,"v":-38.6},{"a":38.8,"v":-37.8},{"a":38.95,"v":-40.2},{"a":39.1,"v":-41.2},{"a":39.25,"v":-42.1},{"a":39.4,"v":-41.4},{"a":39.55,"v":-42.0},{"a":39.7,"v":-41.2},{"a":39.85,"v":-41.8},{"a":40.0,"v":-40.0}],
"conn":[{"a":22.4,"v":-19.4,"a2":23.05,"v2":-37.9},{"a":25.7,"v":-20.2,"a2":27.45,"v2":-36.6},{"a":26.2,"v":-20.3,"a2":28.6,"v2":-37.6},{"a":31.1,"v":-17.8,"a2":31.8,"v2":-37.1},{"a":32.1,"v":-23.3,"a2":33.05,"v2":-37.8},{"a":34.75,"v":-20.0,"a2":34.75,"v2":-37.8},{"a":37.75,"v":-17.9,"a2":37.95,"v2":-36.7},{"a":14.1,"v":-24.4,"a2":14.1,"v2":-47.0},{"a":14.1,"v":-49.6,"a2":14.1,"v2":-53.4},{"a":23.0,"v":-41.9,"a2":22.6,"v2":-46.0},{"a":27.2,"v":-41.4,"a2":26.8,"v2":-46.2},{"a":28.5,"v":-41.9,"a2":28.0,"v2":-46.0},{"a":31.6,"v":-41.9,"a2":31.1,"v2":-46.0},{"a":33.2,"v":-41.5,"a2":32.4,"v2":-46.0},{"a":34.9,"v":-42.1,"a2":34.2,"v2":-46.0},{"a":37.9,"v":-41.5,"a2":37.2,"v2":-46.0},{"a":22.1,"v":-49.4,"a2":21.3,"v2":-56.8},{"a":26.7,"v":-49.4,"a2":25.4,"v2":-56.9},{"a":27.9,"v":-49.4,"a2":26.5,"v2":-57.3},{"a":30.9,"v":-49.4,"a2":29.9,"v2":-57.7},{"a":32.1,"v":-49.4,"a2":31.1,"v2":-57.0},{"a":33.9,"v":-49.4,"a2":32.5,"v2":-57.2},{"a":36.7,"v":-49.4,"a2":35.6,"v2":-56.6}],
"dolab":[{"a":14.1,"v":-48.1,"t":"1"},{"a":22.4,"v":-48.1,"t":"2"},{"a":26.6,"v":-48.1,"t":"3"},{"a":27.95,"v":-48.1,"t":"4"},{"a":31.0,"v":-48.1,"t":"5"},{"a":32.35,"v":-48.1,"t":"6"},{"a":34.1,"v":-48.1,"t":"7"},{"a":36.95,"v":-48.1,"t":"8"}]
},
"spacing":0,
"bounds":"flush",
"vconcat":[
{"width":511,"height":127,
 "layer":[
  {"data":{"name":"toc"},"mark":{"type":"line","color":"#2b2b2b","strokeWidth":1,"point":{"filled":true,"size":5,"shape":"square","color":"#2b2b2b"}},
   "encoding":{
    "x":{"field":"a","type":"quantitative","scale":{"domain":[0,40],"nice":false},"axis":{"orient":"top","values":[0,1,2,3,4,5,6,7,8,9,10,11,12,13,14,15,16,17,18,19,20,21,22,23,24,25,26,27,28,29,30,31,32,33,34,35,36,37,38,39,40],"title":"Calender Age (kyrs B.P.)","titleFontSize":21,"titlePadding":8,"labelExpr":"datum.value % 5 === 0 ? datum.label : ''","labelFontWeight":"bold","labelFontSize":16,"labelColor":"#222","labelPadding":6,"tickSize":{"condition":{"test":"datum.value % 5 === 0","value":-7},"value":-4}}},
    "y":{"field":"v","type":"quantitative","scale":{"domain":[0,2.5],"nice":false},"axis":{"orient":"left","values":[0,0.2,0.4,0.6,0.8,1,1.2,1.4,1.6,1.8,2,2.2,2.4],"title":"TOC (wt%)","titlePadding":22,"labelExpr":"datum.value % 1 === 0 ? format(datum.value, '.1f') : ''","labelPadding":6,"tickSize":{"condition":{"test":"datum.value % 1 === 0","value":-7},"value":-4},"grid":true,"gridOpacity":{"condition":{"test":"datum.value === 1 || datum.value === 2","value":1},"value":0},"gridDash":[1.5,1.5],"gridColor":"#555"}}}},
  {"data":{"values":[{"a":39.7,"v":2.17,"t":"Lake Biwa Total Organic Carbon"}]},"mark":{"type":"text","align":"right","baseline":"middle","fontSize":22,"fontStyle":"italic","fontWeight":"bold","color":"#333"},
   "encoding":{
    "x":{"field":"a","type":"quantitative","scale":{"domain":[0,40],"nice":false},"axis":{"orient":"bottom","values":[0,1,2,3,4,5,6,7,8,9,10,11,12,13,14,15,16,17,18,19,20,21,22,23,24,25,26,27,28,29,30,31,32,33,34,35,36,37,38,39,40],"labels":false,"title":null,"tickSize":{"condition":{"test":"datum.value % 5 === 0","value":-7},"value":-4}}},
    "y":{"field":"v","type":"quantitative","scale":{"domain":[0,2.5],"nice":false},"axis":{"orient":"right","values":[0,0.2,0.4,0.6,0.8,1,1.2,1.4,1.6,1.8,2,2.2,2.4],"labels":false,"title":null,"tickSize":{"condition":{"test":"datum.value % 1 === 0","value":-7},"value":-4}}},
    "text":{"field":"t"}}}
 ],
 "resolve":{"axis":{"x":"independent","y":"independent"}}
},
{"width":511,"height":24,"view":{"stroke":null},"data":{"values":[{"a":0}]},"mark":{"type":"point","opacity":0}},
{"width":511,"height":150,
 "layer":[
  {"data":{"name":"karm"},"mark":{"type":"line","color":"#2b2b2b","strokeWidth":1,"point":{"filled":true,"size":5,"shape":"square","color":"#2b2b2b"}},
   "encoding":{
    "x":{"field":"a","type":"quantitative","scale":{"domain":[0,40],"nice":false},"axis":{"orient":"bottom","values":[0,1,2,3,4,5,6,7,8,9,10,11,12,13,14,15,16,17,18,19,20,21,22,23,24,25,26,27,28,29,30,31,32,33,34,35,36,37,38,39,40],"labels":false,"title":null,"tickSize":{"condition":{"test":"datum.value % 5 === 0","value":-7},"value":-4}}},
    "y":{"field":"v","type":"quantitative","scale":{"domain":[0,5000],"nice":false},"axis":{"orient":"left","values":[0,200,400,600,800,1000,1200,1400,1600,1800,2000,2200,2400,2600,2800,3000,3200,3400,3600,3800,4000,4200,4400,4600,4800,5000],"title":"kARM (μSI)","titlePadding":10,"labelExpr":"datum.value % 1000 === 0 ? format(datum.value, 'd') : ''","labelPadding":6,"tickSize":{"condition":{"test":"datum.value % 1000 === 0","value":-7},"value":-4},"grid":true,"gridOpacity":{"condition":{"test":"datum.value > 0 && datum.value < 5000 && datum.value % 1000 === 0","value":1},"value":0},"gridDash":[1.5,1.5],"gridColor":"#555"}}}},
  {"data":{"name":"ratio"},"mark":{"type":"line","color":"#2b2b2b","strokeWidth":1,"point":{"filled":true,"size":5,"shape":"square","color":"#2b2b2b"}},
   "encoding":{
    "x":{"field":"a","type":"quantitative","scale":{"domain":[0,40],"nice":false},"axis":{"orient":"top","values":[0,1,2,3,4,5,6,7,8,9,10,11,12,13,14,15,16,17,18,19,20,21,22,23,24,25,26,27,28,29,30,31,32,33,34,35,36,37,38,39,40],"labels":false,"title":null,"tickSize":{"condition":{"test":"datum.value % 5 === 0","value":-7},"value":-4}}},
    "y":{"field":"v","type":"quantitative","scale":{"domain":[0,50],"nice":false},"axis":{"orient":"right","values":[0,2,4,6,8,10,12,14,16,18,20,22,24,26,28,30,32,34,36,38,40,42,44,46,48,50],"title":"kARM / k","titleAngle":90,"titlePadding":10,"labelExpr":"datum.value % 10 === 0 ? datum.label : ''","labelPadding":6,"tickSize":{"condition":{"test":"datum.value % 10 === 0","value":-7},"value":-4}}}}},
  {"data":{"values":[{"a":39.7,"v":4370,"t":"Lake Biwa Magnetic Parameters"}]},"mark":{"type":"text","align":"right","baseline":"middle","fontSize":22,"fontStyle":"italic","fontWeight":"bold","color":"#333"},
   "encoding":{"x":{"field":"a","type":"quantitative","scale":{"domain":[0,40],"nice":false},"axis":null},"y":{"field":"v","type":"quantitative","scale":{"domain":[0,5000],"nice":false},"axis":null},"text":{"field":"t"}}},
  {"data":{"values":[{"a":12.8,"v":3470},{"a":3.8,"v":1370}]},"mark":{"type":"text","text":"k","align":"left","baseline":"middle","fontSize":19,"fontStyle":"italic","color":"#333"},
   "encoding":{"x":{"field":"a","type":"quantitative","scale":{"domain":[0,40],"nice":false},"axis":null},"y":{"field":"v","type":"quantitative","scale":{"domain":[0,5000],"nice":false},"axis":null}}},
  {"data":{"values":[{"a":12.8,"v":3470},{"a":3.8,"v":1370}]},"mark":{"type":"text","text":"ARM","align":"left","baseline":"middle","dx":9,"dy":6,"fontSize":12,"fontStyle":"italic","color":"#333"},
   "encoding":{"x":{"field":"a","type":"quantitative","scale":{"domain":[0,40],"nice":false},"axis":null},"y":{"field":"v","type":"quantitative","scale":{"domain":[0,5000],"nice":false},"axis":null}}},
  {"data":{"values":[{"a":3.8,"v":1370}]},"mark":{"type":"text","text":"/ k","align":"left","baseline":"middle","dx":36,"fontSize":19,"fontStyle":"italic","color":"#333"},
   "encoding":{"x":{"field":"a","type":"quantitative","scale":{"domain":[0,40],"nice":false},"axis":null},"y":{"field":"v","type":"quantitative","scale":{"domain":[0,5000],"nice":false},"axis":null}}}
 ],
 "resolve":{"scale":{"y":"independent"},"axis":{"x":"independent","y":"independent"}}
},
{"width":511,"height":27,"view":{"stroke":null},"data":{"values":[{"a":0}]},"mark":{"type":"point","opacity":0}},
{"width":511,"height":124,
 "layer":[
  {"data":{"name":"gisp"},"mark":{"type":"line","color":"#2b2b2b","strokeWidth":1},
   "encoding":{
    "x":{"field":"a","type":"quantitative","scale":{"domain":[0,40],"nice":false},"axis":{"orient":"bottom","values":[0,1,2,3,4,5,6,7,8,9,10,11,12,13,14,15,16,17,18,19,20,21,22,23,24,25,26,27,28,29,30,31,32,33,34,35,36,37,38,39,40],"labels":false,"title":null,"tickSize":{"condition":{"test":"datum.value % 5 === 0","value":-7},"value":-4}}},
    "y":{"field":"v","type":"quantitative","scale":{"domain":[-45,-30],"nice":false},"axis":{"orient":"left","values":[-45,-44,-43,-42,-41,-40,-39,-38,-37,-36,-35,-34,-33,-32,-31,-30],"title":"δ¹⁸O (‰)","titlePadding":13,"labelExpr":"datum.value % 5 === 0 ? datum.label : ''","labelPadding":6,"tickSize":{"condition":{"test":"datum.value % 5 === 0","value":-7},"value":-4},"grid":true,"gridOpacity":{"condition":{"test":"datum.value === -35 || datum.value === -40","value":1},"value":0},"gridDash":[1.5,1.5],"gridColor":"#555"}}}},
  {"data":{"values":[{"a":0.25,"v":-31.9,"t":"GISP2 Oxygen Isotope"}]},"mark":{"type":"text","align":"left","baseline":"middle","fontSize":21,"fontStyle":"italic","fontWeight":"bold","color":"#333"},
   "encoding":{
    "x":{"field":"a","type":"quantitative","scale":{"domain":[0,40],"nice":false},"axis":{"orient":"top","values":[0,1,2,3,4,5,6,7,8,9,10,11,12,13,14,15,16,17,18,19,20,21,22,23,24,25,26,27,28,29,30,31,32,33,34,35,36,37,38,39,40],"labels":false,"title":null,"tickSize":{"condition":{"test":"datum.value % 5 === 0","value":-7},"value":-4}}},
    "y":{"field":"v","type":"quantitative","scale":{"domain":[-45,-30],"nice":false},"axis":{"orient":"right","values":[-45,-44,-43,-42,-41,-40,-39,-38,-37,-36,-35,-34,-33,-32,-31,-30],"labels":false,"title":null,"tickSize":{"condition":{"test":"datum.value % 5 === 0","value":-7},"value":-4}}},
    "text":{"field":"t"}}},
  {"data":{"name":"conn"},"mark":{"type":"rule","color":"#444","strokeWidth":0.8},
   "encoding":{"x":{"field":"a","type":"quantitative","scale":{"domain":[0,40],"nice":false},"axis":null},"x2":{"field":"a2"},"y":{"field":"v","type":"quantitative","scale":{"domain":[-45,-30],"nice":false},"axis":null},"y2":{"field":"v2"}}},
  {"data":{"name":"dolab"},"mark":{"type":"text","align":"center","baseline":"middle","fontSize":19,"color":"#444"},
   "encoding":{"x":{"field":"a","type":"quantitative","scale":{"domain":[0,40],"nice":false},"axis":null},"y":{"field":"v","type":"quantitative","scale":{"domain":[-45,-30],"nice":false},"axis":null},"text":{"field":"t"}}},
  {"data":{"values":[{"a":12.5,"v":-48.1,"t":"Dansgaard-Oeschger Cycles"}]},"mark":{"type":"text","align":"right","baseline":"middle","fontSize":21,"fontStyle":"italic","fontWeight":"bold","color":"#555"},
   "encoding":{"x":{"field":"a","type":"quantitative","scale":{"domain":[0,40],"nice":false},"axis":null},"y":{"field":"v","type":"quantitative","scale":{"domain":[-45,-30],"nice":false},"axis":null},"text":{"field":"t"}}}
 ],
 "resolve":{"axis":{"x":"independent","y":"independent"}}
},
{"width":511,"height":50,"view":{"stroke":null},"data":{"values":[{"a":0}]},"mark":{"type":"point","opacity":0}},
{"width":511,"height":120,
 "layer":[
  {"data":{"name":"grip"},"mark":{"type":"line","color":"#2b2b2b","strokeWidth":1},
   "encoding":{
    "x":{"field":"a","type":"quantitative","scale":{"domain":[0,40],"nice":false},"axis":{"orient":"bottom","values":[0,1,2,3,4,5,6,7,8,9,10,11,12,13,14,15,16,17,18,19,20,21,22,23,24,25,26,27,28,29,30,31,32,33,34,35,36,37,38,39,40],"title":"Calender Age (kyrs B.P.)","titleFontSize":21,"titlePadding":2,"labelExpr":"datum.value % 5 === 0 ? datum.label : ''","labelFontWeight":"bold","labelFontSize":16,"labelColor":"#222","labelPadding":11,"tickSize":{"condition":{"test":"datum.value % 5 === 0","value":-7},"value":-4}}},
    "y":{"field":"v","type":"quantitative","scale":{"domain":[-45,-30],"nice":false},"axis":{"orient":"left","values":[-45,-44,-43,-42,-41,-40,-39,-38,-37,-36,-35,-34,-33,-32,-31,-30],"title":"δ¹⁸O (‰)","titlePadding":13,"labelExpr":"datum.value % 5 === 0 ? datum.label : ''","labelPadding":6,"labelOffset":{"condition":{"test":"datum.value === -45","value":-4},"value":0},"tickSize":{"condition":{"test":"datum.value % 5 === 0","value":-7},"value":-4},"grid":true,"gridOpacity":{"condition":{"test":"datum.value === -35 || datum.value === -40","value":1},"value":0},"gridDash":[1.5,1.5],"gridColor":"#555"}}}},
  {"data":{"values":[{"a":0.15,"v":-31.6,"t":"GRIP Oxygen Isotope"}]},"mark":{"type":"text","align":"left","baseline":"middle","fontSize":21,"fontStyle":"italic","fontWeight":"bold","color":"#333"},
   "encoding":{
    "x":{"field":"a","type":"quantitative","scale":{"domain":[0,40],"nice":false},"axis":{"orient":"top","values":[0,1,2,3,4,5,6,7,8,9,10,11,12,13,14,15,16,17,18,19,20,21,22,23,24,25,26,27,28,29,30,31,32,33,34,35,36,37,38,39,40],"labels":false,"title":null,"tickSize":{"condition":{"test":"datum.value % 5 === 0","value":-7},"value":-4}}},
    "y":{"field":"v","type":"quantitative","scale":{"domain":[-45,-30],"nice":false},"axis":{"orient":"right","values":[-45,-44,-43,-42,-41,-40,-39,-38,-37,-36,-35,-34,-33,-32,-31,-30],"labels":false,"title":null,"tickSize":{"condition":{"test":"datum.value % 5 === 0","value":-7},"value":-4}}},
    "text":{"field":"t"}}}
 ],
 "resolve":{"axis":{"x":"independent","y":"independent"}}
}
]
}
